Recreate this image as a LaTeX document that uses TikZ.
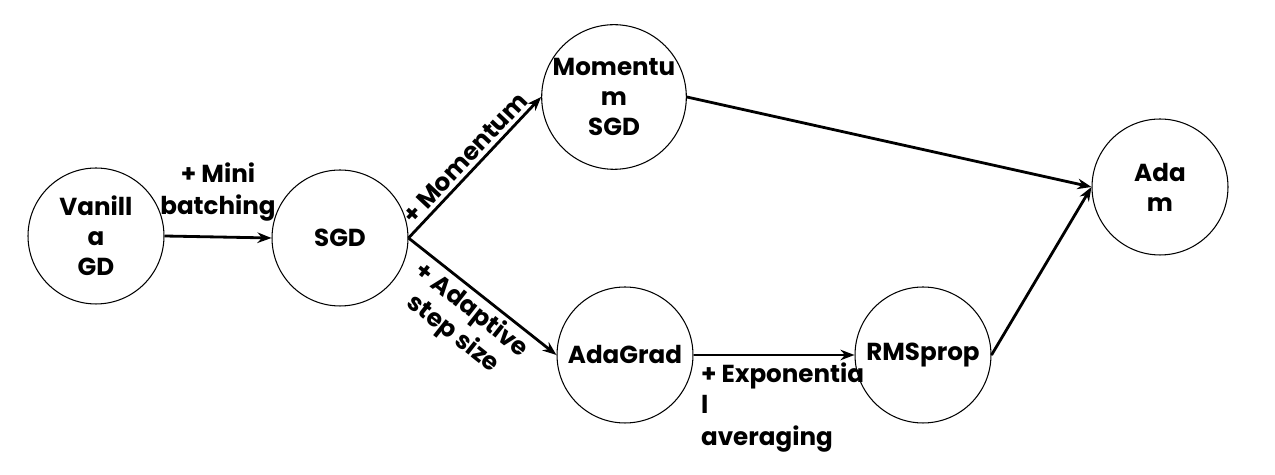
\documentclass[tikz,border=0pt]{standalone}
\usepackage{fontspec}
\setmainfont{Poppins}
\usetikzlibrary{arrows.meta}
\begin{document}
\begin{tikzpicture}[x=0.02cm,y=-0.02cm,every node/.style={font=\bfseries\fontsize{14}{17}\selectfont,align=center},algo/.style={circle,draw,line width=0.6pt,minimum size=2.72cm,inner sep=0pt},edge/.style={-{Stealth[length=8pt,width=6pt]},line width=1.6pt}]
            \useasboundingbox (0,0) rectangle (1275,475);
            \node[algo] (vgd) at (96,236) {Vanill\\a\\GD};
            \node[algo] (sgd) at (340,238) {SGD};
            \node[algo] (msgd) at (614,97) {Momentu\\m\\SGD};
            \node[algo] (adagrad) at (625,355) {AdaGrad};
            \node[algo] (rmsprop) at (923,355) {RMSprop};
            \node[algo] (adam) at (1160,187) {Ada\\m};
            \draw[edge] (vgd.east) -- (sgd.west) node[midway,above=5pt] (lmini) {+ Mini\\[1pt]batching};
            \draw[edge] (sgd.east) -- (msgd.west) node[midway,sloped,above,inner sep=2pt] (lmom) {+ Momentum};
            \draw[edge] (sgd.east) -- (adagrad.west) node[midway,sloped,below,inner sep=2pt] (ladapt) {+ Adaptive\\step size};
            \draw[edge] (adagrad.east) -- (rmsprop.west) node[pos=0,anchor=north west,align=left,inner sep=3.5pt] (lexp) {+ Exponentia\\[1pt]l\\[1pt]averaging};
            \draw[edge] (msgd.east) -- (adam.west);
            \draw[edge] (rmsprop.east) -- (adam.west);
        \end{tikzpicture}
\end{document}
